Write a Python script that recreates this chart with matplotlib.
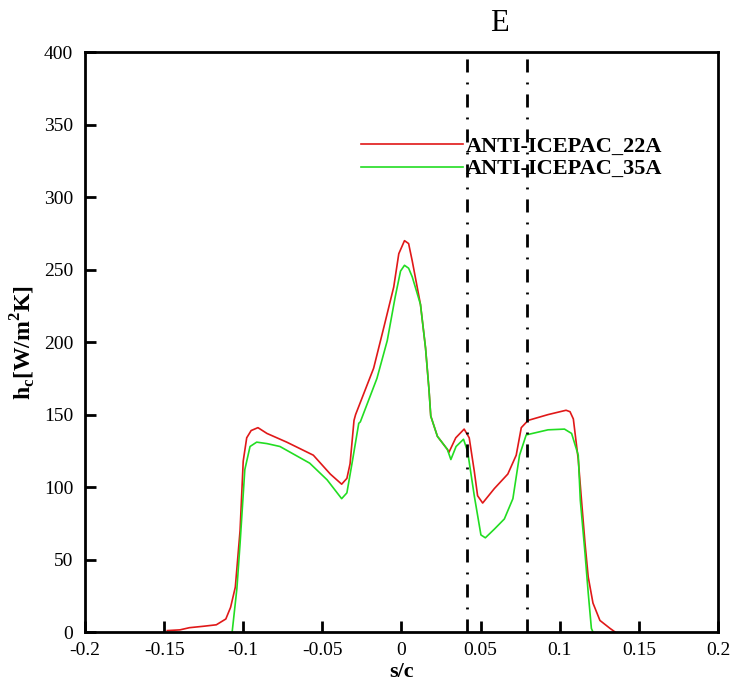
import numpy as np
import matplotlib
matplotlib.use("Agg")
import matplotlib.pyplot as plt

# Data
s_22 = [-0.148, -0.14, -0.134, -0.125, -0.117, -0.111, -0.108, -0.105, -0.102, -0.100,
        -0.0978, -0.095, -0.0907, -0.085, -0.0725, -0.0557, -0.045, -0.0378, -0.0345, -0.0325,
        -0.030, -0.029, -0.0176, -0.0112, -0.0049, -0.0017, 0.0019, 0.0045, 0.0068, 0.012,
        0.0152, 0.0174, 0.0185, 0.0227, 0.029, 0.030, 0.0343, 0.0396, 0.0428, 0.046,
        0.0481, 0.0513, 0.0587, 0.0672, 0.0725, 0.0757, 0.080, 0.0926, 0.104, 0.1065,
        0.1086, 0.1117, 0.1139, 0.116, 0.118, 0.121, 0.1254, 0.1318, 0.135]
h_22 = [1, 1.5, 3, 4, 5, 9, 17, 31, 70, 118,
        134, 139, 141, 137, 131, 122, 109, 102, 106, 116,
        146, 150, 182, 210, 238, 261, 270, 268, 256, 226,
        196, 167, 149, 135, 126, 124, 134, 140, 134, 111,
        94, 89, 99, 109, 122, 141, 146, 150, 153, 152,
        147, 119, 89, 61, 38, 20, 8, 2.5, 0]

s_35 = [-0.107, -0.104, -0.102, -0.099, -0.0957, -0.0915, -0.085, -0.0768, -0.058, -0.047,
        -0.0378, -0.0345, -0.031, -0.027, -0.026, -0.0155, -0.009, -0.004, -0.0006, 0.0019,
        0.0045, 0.0068, 0.012, 0.0152, 0.0174, 0.0185, 0.0227, 0.029, 0.0312, 0.0345,
        0.0392, 0.0418, 0.046, 0.0502, 0.053, 0.0587, 0.065, 0.0704, 0.0746, 0.0788,
        0.0926, 0.103, 0.1075, 0.1117, 0.113, 0.116, 0.118, 0.120, 0.121]
h_35 = [0, 30, 61, 112, 128, 131, 130, 128, 116.5, 105,
        92, 96, 118, 144, 145, 175, 201, 231, 249, 253,
        251, 245, 226, 196, 167, 149, 135, 126, 119, 128,
        133, 124.5, 94, 67, 65, 71, 78, 92, 122, 136,
        139.5, 140, 137, 122, 91, 54, 27, 2.5, 0]

region_bounds = [0.0414, 0.0793]
labels = ["ANTI-ICEPAC_22A", "ANTI-ICEPAC_35A"]

plt.rcParams['font.family'] = ['Liberation Serif', 'DejaVu Serif']

fig = plt.figure(figsize=(7.37, 6.87), dpi=100)
ax = fig.add_axes([0.1153, 0.080, 0.8589, 0.844])

ax.plot(s_22, h_22, color='#e01818', lw=1.2, label=labels[0])
ax.plot(s_35, h_35, color='#22dd22', lw=1.2, label=labels[1])

# dash-dot region boundaries
for xb in region_bounds:
    ax.axvline(xb, color='black', lw=2, linestyle=(0, (4.7, 3.6, 0.7, 3.6)))

ax.set_xlim(-0.2, 0.2)
ax.set_ylim(0, 400)
ax.set_xticks(np.arange(-0.2, 0.201, 0.05))
ax.set_xticklabels(['-0.2', '-0.15', '-0.1', '-0.05', '0', '0.05', '0.1', '0.15', '0.2'])
ax.set_yticks(np.arange(0, 401, 50))
ax.tick_params(direction='in', length=8, width=2, labelsize=14, top=False, right=False)
ax.tick_params(axis='x', pad=7)
ax.tick_params(axis='y', pad=8.5)
for sp in ax.spines.values():
    sp.set_linewidth(2)

ax.set_xlabel('s/c', fontsize=16, fontweight='bold', labelpad=2)
ax.set_ylabel(r'h$_\mathregular{c}$[W/m$^\mathregular{2}$K]', fontsize=17,
              fontweight='bold')
ax.yaxis.set_label_coords(-0.074, 0.5)
ax.set_title('E', fontsize=22, x=0.655, pad=15)

ax.legend(loc='upper left', bbox_to_anchor=(0.404, 0.890), frameon=False,
          handlelength=4.6, handletextpad=0.15, labelspacing=0.1,
          prop={'size': 16, 'weight': 'bold'})

plt.savefig('out.png', dpi=100)
